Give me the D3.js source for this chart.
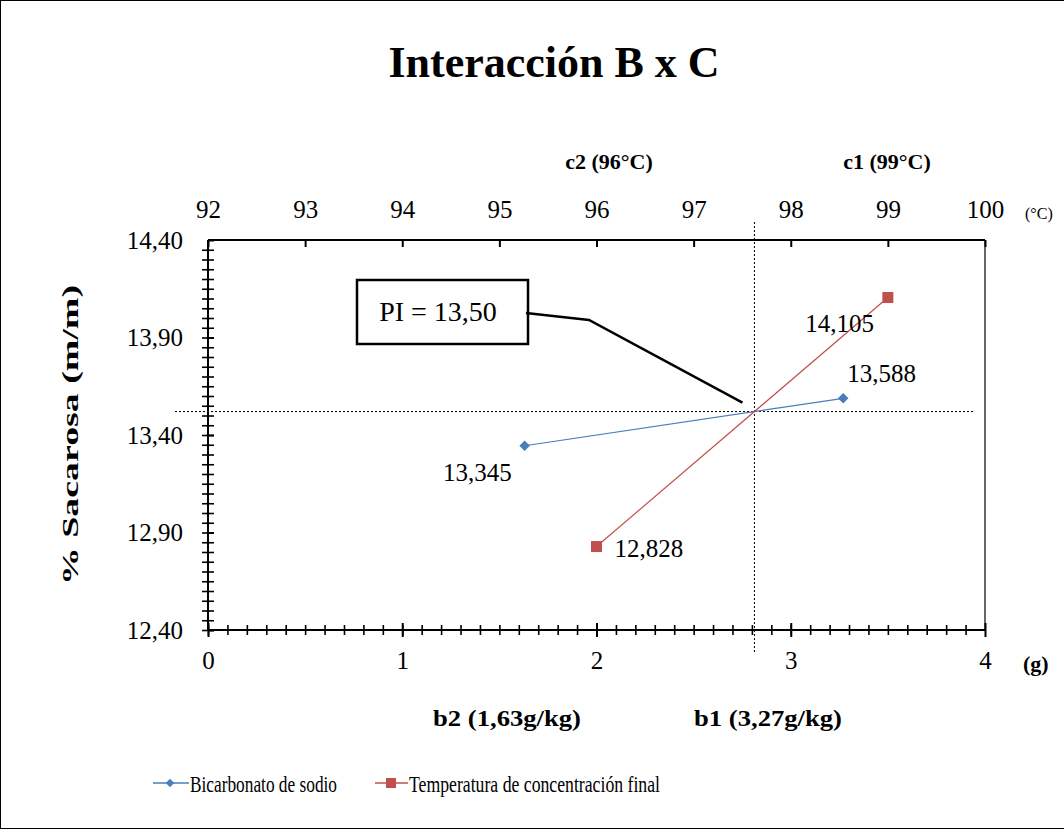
<!DOCTYPE html>
<html><head><meta charset="utf-8">
<script src="https://cdn.jsdelivr.net/npm/d3@7"></script>
<style>
html,body{margin:0;padding:0;background:#fff;}
svg text{font-family:"Times New Roman","Liberation Serif",Tinos,serif !important;}
</style></head>
<body>
<svg id="chart" width="1064" height="830"></svg>
<script>
// ---- data ----
const title = "Interacción B x C";
const yTitle = "% Sacarosa (m/m)";
const bicarbonatoX = [1.63, 3.27];          // g (bottom axis)
const bicarbonatoY = [13.345, 13.588];
const bicarbonatoLabels = ["13,345", "13,588"];
const temperaturaX = [96, 99];               // °C (top axis)
const temperaturaY = [12.828, 14.105];
const temperaturaLabels = ["12,828", "14,105"];
const seriesNames = ["Bicarbonato de sodio", "Temperatura de concentración final"];
const bottomTicks = [0, 1, 2, 3, 4];
const topTicks = [92, 93, 94, 95, 96, 97, 98, 99, 100];
const yTicks = [12.40, 12.90, 13.40, 13.90, 14.40];
const topCategories = ["c2 (96°C)", "c1 (99°C)"];
const bottomCategories = ["b2 (1,63g/kg)", "b1 (3,27g/kg)"];
const piLabel = "PI = 13,50";

const svg = d3.select("#chart");
const L = 208, R = 985, T = 240, B = 630;
const xB = d3.scaleLinear().domain([0, 4]).range([L, R]);
const xT = d3.scaleLinear().domain([92, 100]).range([L, R]);
const y = d3.scaleLinear().domain([12.4, 14.4]).range([B, T]);
const fmt = d => d3.format(".2f")(d).replace(".", ",");
const blue = "#4a7ebb", red = "#c0504d";

// outer border
svg.append("rect").attr("x", 0.5).attr("y", 0.5).attr("width", 1100).attr("height", 828)
  .attr("fill", "none").attr("stroke", "#000").attr("stroke-width", 1);

// title
svg.append("text").attr("x", 554).attr("y", 77).attr("text-anchor", "middle")
  .attr("font-size", 44).attr("font-weight", "bold").text(title);

// intersection point (from the two series lines, red expressed in bottom-axis units)
const rx = temperaturaX.map(v => xB.invert(xT(v)));
const m1 = (bicarbonatoY[1] - bicarbonatoY[0]) / (bicarbonatoX[1] - bicarbonatoX[0]);
const m2 = (temperaturaY[1] - temperaturaY[0]) / (rx[1] - rx[0]);
const piX = (temperaturaY[0] - m2 * rx[0] - bicarbonatoY[0] + m1 * bicarbonatoX[0]) / (m1 - m2);
const piY = bicarbonatoY[0] + m1 * (piX - bicarbonatoX[0]);

// dashed guide lines
svg.append("line").attr("x1", xB(piX)).attr("x2", xB(piX)).attr("y1", 222).attr("y2", 652)
  .attr("stroke", "#000").attr("stroke-width", 1).attr("stroke-dasharray", "2,2");
svg.append("line").attr("x1", 175).attr("x2", 975).attr("y1", y(piY)).attr("y2", y(piY))
  .attr("stroke", "#000").attr("stroke-width", 1).attr("stroke-dasharray", "2,2");

// right border of plot
svg.append("line").attr("x1", R).attr("x2", R).attr("y1", T).attr("y2", B)
  .attr("stroke", "#000").attr("stroke-width", 1.2);

// bottom axis: minor ticks
const gBm = svg.append("g").attr("transform", `translate(0,${B})`)
  .call(d3.axisBottom(xB).tickValues(d3.range(0, 40).map(i => i / 10)).tickSize(0).tickFormat(""));
gBm.select(".domain").remove();
gBm.selectAll(".tick line").attr("y1", -5).attr("y2", 5).attr("stroke-width", 1.6);
// bottom axis major
const gB = svg.append("g").attr("transform", `translate(0,${B})`)
  .call(d3.axisBottom(xB).tickValues(bottomTicks).tickSize(7).tickPadding(14).tickFormat(d3.format("d")));
gB.select(".domain").attr("stroke-width", 2).attr("d", `M${L},0H${R}`);
gB.selectAll(".tick line").attr("y1", -7).attr("stroke-width", 2);
gB.selectAll(".tick text").attr("font-size", 25).attr("fill", "#000");

// top axis
const gT = svg.append("g").attr("transform", `translate(0,${T})`)
  .call(d3.axisTop(xT).tickValues(topTicks).tickSize(7).tickPadding(15).tickFormat(d3.format("d")));
gT.select(".domain").attr("stroke-width", 2).attr("d", `M${L},0H${R}`);
gT.selectAll(".tick line").attr("y2", 7).attr("stroke-width", 2);
gT.selectAll(".tick text").attr("font-size", 25).attr("fill", "#000");

// left axis minor
const gLm = svg.append("g").attr("transform", `translate(${L},0)`)
  .call(d3.axisLeft(y).tickValues(d3.range(0, 40).map(i => 12.4 + i * 0.05)).tickSize(0).tickFormat(""));
gLm.select(".domain").remove();
gLm.selectAll(".tick line").attr("x1", -6).attr("x2", 6).attr("stroke-width", 1.6);
// left axis major
const gL = svg.append("g").attr("transform", `translate(${L},0)`)
  .call(d3.axisLeft(y).tickValues(yTicks).tickSize(8).tickPadding(17).tickFormat(fmt));
gL.select(".domain").attr("stroke-width", 2).attr("d", `M0,${T}V${B}`);
gL.selectAll(".tick line").attr("x2", 6).attr("stroke-width", 2);
gL.selectAll(".tick text").attr("font-size", 25).attr("fill", "#000");

// axis unit labels
svg.append("text").attr("x", 1025).attr("y", 219).attr("font-size", 16).text("(°C)");
svg.append("text").attr("x", 1023).attr("y", 671).attr("font-size", 22).attr("font-weight", "bold").text("(g)");

// category labels
const topCatX = [609, 887];
svg.selectAll(".topcat").data(topCategories).join("text")
  .attr("x", (d, i) => topCatX[i]).attr("y", 169).attr("text-anchor", "middle")
  .attr("font-size", 22).attr("font-weight", "bold").text(d => d);
const botCatX = [507, 768];
svg.selectAll(".botcat").data(bottomCategories).join("text")
  .attr("x", (d, i) => botCatX[i]).attr("y", 726).attr("text-anchor", "middle")
  .attr("font-size", 23).attr("font-weight", "bold").attr("textLength", 148).attr("lengthAdjust", "spacingAndGlyphs").text(d => d);

// y title
svg.append("text").attr("transform", `translate(78,${(T + B) / 2}) rotate(-90)`)
  .attr("text-anchor", "middle").attr("font-size", 23).attr("font-weight", "bold")
  .attr("textLength", 300).attr("lengthAdjust", "spacingAndGlyphs").text(yTitle);

// series lines
const bluePts = bicarbonatoX.map((v, i) => [xB(v), y(bicarbonatoY[i])]);
const redPts = temperaturaX.map((v, i) => [xT(v), y(temperaturaY[i])]);
svg.append("path").attr("d", d3.line()(bluePts)).attr("stroke", blue).attr("stroke-width", 1.2).attr("fill", "none");
svg.append("path").attr("d", d3.line()(redPts)).attr("stroke", red).attr("stroke-width", 1.2).attr("fill", "none");

// markers
const diamond = d3.symbol().type(d3.symbolDiamond2).size(70);
svg.selectAll(".bm").data(bluePts).join("path")
  .attr("transform", d => `translate(${d[0]},${d[1]})`).attr("d", diamond).attr("fill", blue);
svg.selectAll(".rm").data(redPts).join("rect")
  .attr("x", d => d[0] - 5.5).attr("y", d => d[1] - 5.5).attr("width", 11).attr("height", 11).attr("fill", red);

// data labels
const blueLabelPos = [{dx: -13, dy: 35, anchor: "end"}, {dx: 4, dy: -16, anchor: "start"}];
const redLabelPos = [{dx: 18, dy: 10, anchor: "start"}, {dx: -14, dy: 34, anchor: "end"}];
svg.selectAll(".bl").data(bluePts).join("text")
  .attr("x", (d, i) => d[0] + blueLabelPos[i].dx).attr("y", (d, i) => d[1] + blueLabelPos[i].dy)
  .attr("text-anchor", (d, i) => blueLabelPos[i].anchor).attr("font-size", 25).text((d, i) => bicarbonatoLabels[i]);
svg.selectAll(".rl").data(redPts).join("text")
  .attr("x", (d, i) => d[0] + redLabelPos[i].dx).attr("y", (d, i) => d[1] + redLabelPos[i].dy)
  .attr("text-anchor", (d, i) => redLabelPos[i].anchor).attr("font-size", 25).text((d, i) => temperaturaLabels[i]);

// PI callout
svg.append("rect").attr("x", 357).attr("y", 280).attr("width", 171).attr("height", 64)
  .attr("fill", "#fff").attr("stroke", "#000").attr("stroke-width", 2.5);
svg.append("text").attr("x", 438).attr("y", 321).attr("text-anchor", "middle").attr("font-size", 28).text(piLabel);
svg.append("path").attr("d", `M526,313L589,320L${xB(piX) - 12},${y(piY) - 9}`)
  .attr("fill", "none").attr("stroke", "#000").attr("stroke-width", 2.5);

// legend
const lg = svg.append("g");
lg.append("line").attr("x1", 153).attr("x2", 189).attr("y1", 783).attr("y2", 783).attr("stroke", blue).attr("stroke-width", 1.5);
lg.append("path").attr("transform", "translate(170,783)").attr("d", d3.symbol().type(d3.symbolDiamond2).size(45)).attr("fill", blue);
lg.append("text").attr("x", 190).attr("y", 792).attr("font-size", 24).attr("textLength", 147).attr("lengthAdjust", "spacingAndGlyphs").text(seriesNames[0]);
lg.append("line").attr("x1", 375).attr("x2", 408).attr("y1", 783).attr("y2", 783).attr("stroke", red).attr("stroke-width", 1.5);
lg.append("rect").attr("x", 386).attr("y", 778).attr("width", 10).attr("height", 10).attr("fill", red);
lg.append("text").attr("x", 409).attr("y", 792).attr("font-size", 24).attr("textLength", 251).attr("lengthAdjust", "spacingAndGlyphs").text(seriesNames[1]);
</script>
</body></html>
